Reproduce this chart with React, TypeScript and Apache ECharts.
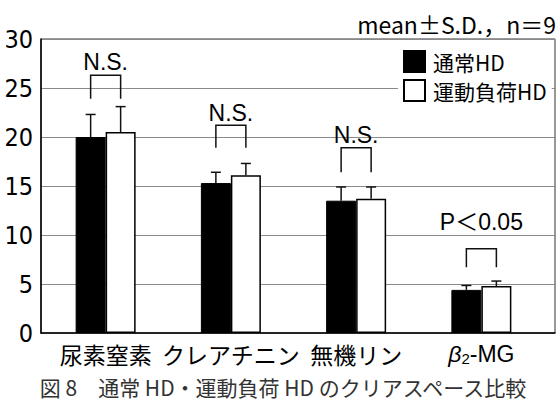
import React, { useEffect, useRef } from "react";
import * as echarts from "echarts";

// Clearance comparison: normal HD vs exercise-loaded HD (mean ± S.D., n = 9)
const categories = ["尿素窒素", "クレアチニン", "無機リン", "β2-MG"];
const seriesNames = ["通常HD", "運動負荷HD"];
const normalMean = [20.0, 15.3, 13.5, 4.4];
const normalSD = [2.3, 1.1, 1.4, 0.45];
const exerciseMean = [20.5, 16.1, 13.7, 4.8];
const exerciseSD = [2.6, 1.2, 1.2, 0.5];

// significance brackets: top bar, foot of the legs, label height
const bracketTop = [26.3, 21.2, 18.9, 8.6];
const bracketFoot = [23.9, 18.9, 16.4, 6.7];
const bracketLabelAt = [27.7, 22.5, 20.2, 11.3];
const bracketLabels = ["N.S.", "N.S.", "N.S.", "P＜0.05"];

const yMin = 0;
const yMax = 30;
const yStep = 5;

const titleText = "mean±S.D.，n＝9";
const captionText = "図 8　通常 HD・運動負荷 HD のクリアスペース比較";

const BAR_W = 30;
const JP = "'Noto Sans CJK JP', 'Noto Sans', sans-serif";
const NUM = "'Liberation Sans Narrow', 'DejaVu Sans Condensed', 'Liberation Sans', sans-serif";
const LAT = "'Liberation Sans', 'Noto Sans CJK JP', sans-serif";

export default function App() {
  const ref = useRef<HTMLDivElement>(null);

  useEffect(() => {
    if (!ref.current) return;
    const chart = echarts.init(ref.current, undefined, { renderer: "svg" });

    const errorData: number[][] = [];
    categories.forEach((_, i) => {
      errorData.push([i, normalMean[i], normalSD[i], -1]);
      errorData.push([i, exerciseMean[i], exerciseSD[i], 1]);
    });
    const bracketData = categories.map((_, i) => [
      i,
      bracketTop[i],
      bracketFoot[i],
      bracketLabelAt[i],
    ]);

    const option: any = {
      animation: false,
      backgroundColor: "#fff",
      title: {
        text: titleText,
        right: 1,
        top: 12,
        padding: 0,
        textStyle: { fontFamily: JP, fontSize: 23, fontWeight: "normal", color: "#000" },
      },
      legend: {
        orient: "vertical",
        left: 398,
        top: 45,
        padding: [5, 5, 5, 5],
        itemGap: 6,
        itemWidth: 21,
        itemHeight: 21,
        icon: "rect",
        backgroundColor: "#fff",
        selectedMode: false,
        data: seriesNames,
        textStyle: { fontFamily: JP, fontSize: 21, color: "#000", padding: [0, 0, 0, 3] },
      },
      graphic: [
        {
          type: "text",
          x: 283,
          y: 387,
          style: {
            text: captionText,
            fontFamily: JP,
            fontSize: 21,
            fill: "#333",
            textAlign: "center",
            textVerticalAlign: "middle",
          },
        },
      ],
      grid: [
        {
          left: 41,
          right: 2,
          top: 39,
          bottom: 73,
          show: true,
          borderColor: "#333",
          borderWidth: 1,
        },
        { left: 43, right: 13, top: 39, bottom: 73 },
      ],
      xAxis: [
        {
          gridIndex: 0,
          type: "category",
          data: categories,
          axisLine: { lineStyle: { color: "#000", width: 1.5 } },
          axisTick: { show: false },
          axisLabel: { show: false },
        },
        {
          gridIndex: 1,
          type: "category",
          data: categories,
          axisLine: { show: false },
          axisTick: { show: false },
          axisLabel: {
            interval: 0,
            margin: 9,
            fontFamily: JP,
            fontSize: 23,
            color: "#000",
            formatter: (v: string) => (v === "β2-MG" ? "{b|β}{s|2}{n|-MG}" : v),
            rich: {
              b: { fontFamily: LAT, fontSize: 23, fontStyle: "italic", color: "#000" },
              s: { fontFamily: LAT, fontSize: 15, color: "#000", padding: [9, 0, 0, 0] },
              n: { fontFamily: LAT, fontSize: 23, color: "#000" },
            },
          },
        },
      ],
      yAxis: [
        {
          gridIndex: 0,
          type: "value",
          min: yMin,
          max: yMax,
          interval: yStep,
          axisLine: { show: true, lineStyle: { color: "#000", width: 1.5 } },
          axisTick: { show: false },
          splitLine: { lineStyle: { color: "#8a8a8a", width: 1 } },
          axisLabel: { margin: 8, fontFamily: NUM, fontSize: 25, color: "#000" },
        },
        {
          gridIndex: 1,
          type: "value",
          min: yMin,
          max: yMax,
          show: false,
        },
      ],
      series: [
        {
          name: seriesNames[0],
          type: "bar",
          xAxisIndex: 1,
          yAxisIndex: 1,
          data: normalMean,
          barWidth: BAR_W,
          barGap: "0%",
          itemStyle: { color: "#000", borderColor: "#000", borderWidth: 1 },
        },
        {
          name: seriesNames[1],
          type: "bar",
          xAxisIndex: 1,
          yAxisIndex: 1,
          data: exerciseMean,
          barWidth: BAR_W,
          barGap: "0%",
          itemStyle: { color: "#fff", borderColor: "#000", borderWidth: 1.5 },
        },
        {
          type: "custom",
          xAxisIndex: 1,
          yAxisIndex: 1,
          data: errorData,
          z: 5,
          silent: true,
          renderItem: (_p: any, api: any) => {
            const i = api.value(0);
            const mean = api.value(1);
            const sd = api.value(2);
            const side = api.value(3);
            const base = api.coord([i, mean]);
            const top = api.coord([i, mean + sd]);
            const x = base[0] + (side * BAR_W) / 2;
            const st = { stroke: "#111", lineWidth: 1.5 };
            return {
              type: "group",
              children: [
                { type: "line", shape: { x1: x, y1: base[1], x2: x, y2: top[1] }, style: st },
                { type: "line", shape: { x1: x - 5, y1: top[1], x2: x + 5, y2: top[1] }, style: st },
              ],
            };
          },
        },
        {
          type: "custom",
          xAxisIndex: 1,
          yAxisIndex: 1,
          data: bracketData,
          z: 5,
          silent: true,
          renderItem: (p: any, api: any) => {
            const i = api.value(0);
            const t = api.coord([i, api.value(1)]);
            const f = api.coord([i, api.value(2)]);
            const l = api.coord([i, api.value(3)]);
            const x1 = t[0] - BAR_W / 2;
            const x2 = t[0] + BAR_W / 2;
            return {
              type: "group",
              children: [
                {
                  type: "polyline",
                  shape: { points: [[x1, f[1]], [x1, t[1]], [x2, t[1]], [x2, f[1]]] },
                  style: { stroke: "#111", lineWidth: 1.5, fill: "none" },
                },
                {
                  type: "text",
                  x: t[0],
                  y: l[1],
                  style: {
                    text: bracketLabels[p.dataIndex],
                    fontFamily: LAT,
                    fontSize: 23,
                    fill: "#000",
                    textAlign: "center",
                    textVerticalAlign: "middle",
                  },
                },
              ],
            };
          },
        },
      ],
    };

    chart.setOption(option);
    return () => chart.dispose();
  }, []);

  return (
    <div
      ref={ref}
      style={{ position: "fixed", left: 0, top: 0, width: 557, height: 406, background: "#fff" }}
    />
  );
}
